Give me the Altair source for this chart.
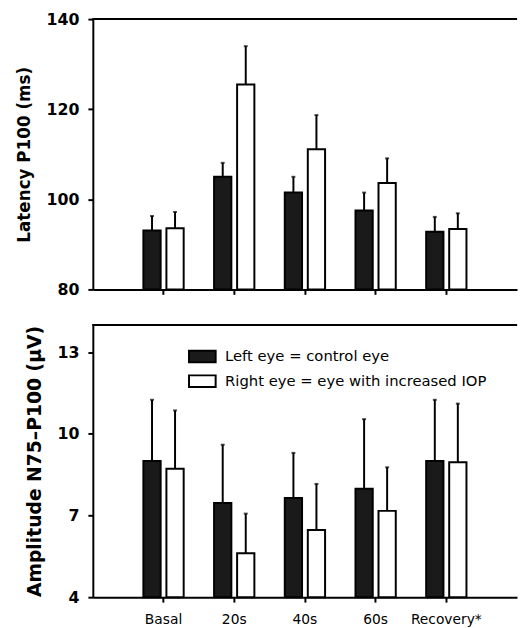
import altair as alt
import pandas as pd

categories = ["Basal", "20s", "40s", "60s", "Recovery*"]
series = ["Left eye = control eye", "Right eye = eye with increased IOP"]

lat_left = [93.1, 105.0, 101.5, 97.5, 92.8]
lat_left_err = [96.3, 108.1, 105.0, 101.5, 96.1]
lat_right = [93.6, 125.5, 111.1, 103.6, 93.4]
lat_right_err = [97.2, 134.0, 118.7, 109.1, 96.9]

amp_left = [9.0, 7.46, 7.64, 7.98, 9.0]
amp_left_err = [11.25, 9.60, 9.30, 10.54, 11.25]
amp_right = [8.72, 5.61, 6.47, 7.17, 8.96]
amp_right_err = [10.86, 7.07, 8.16, 8.77, 11.11]


def frame(left, left_err, right, right_err):
    rows = []
    for i, c in enumerate(categories):
        rows.append({"cat": c, "series": series[0], "value": left[i], "upper": left_err[i]})
        rows.append({"cat": c, "series": series[1], "value": right[i], "upper": right_err[i]})
    return pd.DataFrame(rows)


lat_df = frame(lat_left, lat_left_err, lat_right, lat_right_err)
amp_df = frame(amp_left, amp_left_err, amp_right, amp_right_err)

W = 430
FONT = "DejaVu Sans"


def panel(df, domain, ticks, ytitle, tsize, height, show_labels, show_legend):
    xaxis = alt.Axis(
        title=None,
        labels=show_labels,
        labelFontSize=14,
        labelFont=FONT,
        labelColor="black",
        labelPadding=11,
        tickSize=5,
        tickWidth=2,
        tickColor="black",
        domainColor="black",
        domainWidth=2,
        grid=False,
        labelAngle=0,
    )
    x = alt.X("cat:N", sort=categories, axis=xaxis,
              scale=alt.Scale(paddingInner=0.43, paddingOuter=0.715))
    xo = alt.XOffset("series:N", sort=series, scale=alt.Scale(paddingInner=0.25))
    yscale = alt.Scale(domain=domain, nice=False, zero=False)
    yaxis = alt.Axis(
        title=ytitle,
        values=ticks,
        titleFontSize=tsize,
        titleFont=FONT,
        titleFontWeight="bold",
        titleColor="black",
        titlePadding=13,
        titleLimit=600,
        labelFontSize=16,
        labelFont=FONT,
        labelFontWeight="bold",
        labelColor="black",
        labelPadding=9,
        tickSize=5,
        tickWidth=2,
        tickColor="black",
        domainColor="black",
        domainWidth=2,
        grid=False,
    )
    legend = None
    if show_legend:
        legend = alt.Legend(
            title=None,
            orient="none",
            legendX=101,
            legendY=22,
            symbolType="M-1.5,-0.65H1.5V0.65H-1.5Z",
            symbolSize=324,
            symbolStrokeColor="black",
            symbolStrokeWidth=2,
            labelFontSize=15,
            labelFont=FONT,
            labelColor="black",
            labelOffset=13,
            rowPadding=5,
            labelLimit=400,
        )
    fill = alt.Fill("series:N", sort=series,
                    scale=alt.Scale(domain=series, range=["#1a1a1a", "white"]),
                    legend=legend)
    base = alt.Chart(df)
    bars = base.mark_bar(stroke="black", strokeWidth=2).encode(
        x=x, xOffset=xo, y=alt.Y("value:Q", scale=yscale, axis=yaxis),
        y2=alt.Y2Datum(domain[0]), fill=fill
    )
    err = base.mark_rule(color="black", strokeWidth=2).encode(
        x=x, xOffset=xo, y=alt.Y("value:Q", scale=yscale), y2="upper:Q"
    )
    cap = base.mark_tick(color="black", thickness=2, size=4).encode(
        x=x, xOffset=xo, y=alt.Y("upper:Q", scale=yscale)
    )
    top = alt.Chart(df).mark_rule(color="black", strokeWidth=2).encode(
        x=alt.value(0), x2=alt.value(W), y=alt.value(0)
    )
    return alt.layer(bars, err, cap, top).properties(width=W, height=height)


p1 = panel(lat_df, [80, 140], [80, 100, 120, 140], "Latency P100 (ms)", 17, 274, False, False)
p2 = panel(amp_df, [4, 14], [4, 7, 10, 13], "Amplitude N75\u2013P100 (\u03bcV)", 19, 276, True, True)

chart = alt.vconcat(p1, p2, spacing=27).resolve_scale(fill="independent").configure_view(
    strokeWidth=0
).properties(padding={"left": 7, "top": -1, "right": 0, "bottom": 0}, background="white")

chart.save("out.html", embed_options={"renderer": "svg", "actions": False})
